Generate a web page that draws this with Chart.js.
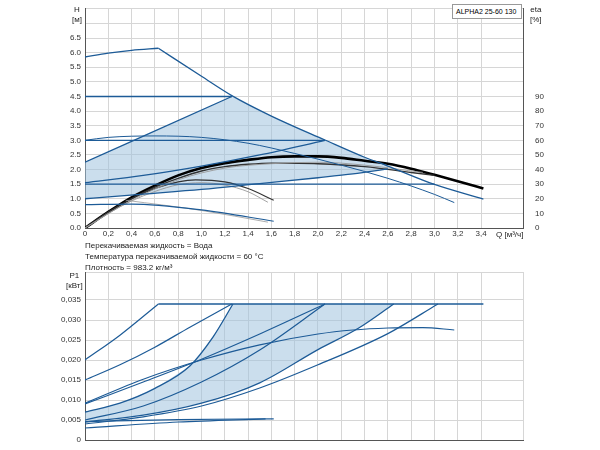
<!DOCTYPE html>
<html>
<head>
<meta charset="utf-8">
<script src="https://cdn.jsdelivr.net/npm/chart.js@4"></script>
<style>
  body { margin: 0; background: #fff; font-family: "Liberation Sans", Arial, sans-serif; }
  #wrap { position: relative; width: 600px; height: 450px; }
  canvas { position: absolute; left: 0; }
  .txt { position: absolute; font-size: 8px; color: #222; white-space: nowrap; line-height: 10px; }
  .box { position: absolute; left: 452px; top: 4px; width: 70px; height: 15px; border: 1px solid #999; font-size: 7px; line-height: 13px; padding-left: 3px; box-sizing: border-box; background: #fff; white-space: nowrap; }
</style>
</head>
<body>
<div id="wrap">
  <canvas id="headChart" style="top:0" width="600" height="240"></canvas>
  <canvas id="powerChart" style="top:250px" width="600" height="200"></canvas>
  <div class="box">ALPHA2 25-60 130</div>
  <div class="txt" style="left:72px;top:5px;text-align:center">H<br>[м]</div>
  <div class="txt" style="left:530px;top:5px;text-align:center">eta<br>[%]</div>
  <div class="txt" style="left:496px;top:230px">Q [м³/ч]</div>
  <div class="txt" style="left:85px;top:241px">Перекачиваемая жидкость = Вода</div>
  <div class="txt" style="left:85px;top:252px">Температура перекачиваемой жидкости = 60 °C</div>
  <div class="txt" style="left:85px;top:263px">Плотность = 983.2 кг/м³</div>
  <div class="txt" style="left:66px;top:271px;text-align:center">P1<br>[кВт]</div>
</div>
<script>
// head curves, Q [m3/h] / H [m]
const maxCurveQ = [0, 0.2, 0.4, 0.63, 1.0, 1.26, 1.6, 2.06, 2.4, 2.6, 3.0, 3.42];
const maxCurveH = [5.85, 5.98, 6.08, 6.15, 5.19, 4.53, 3.83, 3.01, 2.42, 2.12, 1.49, 0.99];
const cpHighQ = [0, 1.26];  const cpHighH = [4.5, 4.5];
const cpMidQ = [0, 2.06];   const cpMidH = [3.0, 3.0];
const cpLowQ = [0, 3.0];    const cpLowH = [1.5, 1.5];
const ppHighQ = [0, 1.26];  const ppHighH = [2.25, 4.5];
const ppMidQ = [0, 0.5, 1.0, 1.5, 2.06];
const ppMidH = [1.55, 1.8, 2.12, 2.5, 3.0];
const ppLowQ = [0, 0.5, 1.0, 1.5, 2.0, 2.3, 2.6];
const ppLowH = [1.0, 1.16, 1.32, 1.52, 1.72, 1.85, 2.02];
const autoQ = [0, 0.2, 0.6, 1.0, 1.4, 1.8, 2.2, 2.6, 3.0, 3.17];
const autoH = [3.0, 3.1, 3.15, 3.1, 2.9, 2.55, 2.15, 1.7, 1.15, 0.87];
const minQ = [0, 0.4, 1.0, 1.62];
const minH = [0.8, 0.82, 0.62, 0.23];
const minGrayQ = [0.35, 1.0, 1.57];
const minGrayH = [0.95, 0.6, 0.2];

// efficiency curves, eta [%]
const etaMaxQ = [0, 0.2, 0.4, 0.6, 0.8, 1.0, 1.2, 1.4, 1.6, 1.8, 2.0, 2.2, 2.4, 2.6, 2.8, 3.0, 3.2, 3.42];
const etaMax = [0, 11, 21, 29, 36, 41, 44.4, 46.6, 48.4, 49, 49, 48, 46, 44, 40.6, 36.4, 32, 27];
const etaAutoQ = [0, 0.2, 0.4, 0.6, 0.8, 1.0, 1.2, 1.4, 1.6, 2.0, 2.4, 2.8, 3.0];
const etaAuto = [0, 10.5, 20, 28, 34, 39, 42, 43.6, 44.4, 44, 42, 38, 36];
const etaAutoGrayQ = [0, 0.4, 0.8, 1.2, 1.6, 2.0, 2.4, 2.9];
const etaAutoGray = [0, 19, 33, 41, 44, 45, 43, 38];
const etaMinQ = [0, 0.2, 0.4, 0.6, 0.8, 0.95, 1.2, 1.4, 1.62];
const etaMin = [0, 11, 20, 27, 31.6, 33, 31.6, 27, 19];
const etaMinGrayQ = [0, 0.2, 0.4, 0.6, 0.8, 1.0, 1.2, 1.4, 1.57];
const etaMinGray = [0, 10, 18.5, 25, 29.6, 31, 29.4, 24.8, 17.6];

// power curves, P1 [kW]
const pCapQ = [0.63, 3.42];             const pCap = [0.034, 0.034];
const pAQ = [0, 0.3, 0.63];             const pA = [0.020, 0.0262, 0.034];
const pBQ = [0, 0.3, 0.6, 0.9, 1.26];   const pB = [0.015, 0.0188, 0.0232, 0.0282, 0.034];
const pCQ = [0, 0.3, 0.6, 0.9, 1.1, 1.27]; const pC = [0.007, 0.0092, 0.0129, 0.0185, 0.0258, 0.034];
const pDQ = [0, 0.5, 1.0, 1.5, 2.06];   const pD = [0.009, 0.0145, 0.0202, 0.0265, 0.034];
const pEQ = [0, 0.5, 1.0, 1.5, 2.0, 2.3, 2.6, 2.9, 3.17];
const pE = [0.0092, 0.0152, 0.020, 0.0238, 0.0265, 0.0275, 0.028, 0.0281, 0.0275];
const pFQ = [0, 0.5, 1.0, 1.5, 2.06];   const pF = [0.005, 0.0085, 0.0145, 0.0225, 0.034];
const pGQ = [0, 0.5, 1.0, 1.5, 2.0, 2.35, 2.65]; const pG = [0.0045, 0.0062, 0.0092, 0.0143, 0.0226, 0.028, 0.034];
const pHQ = [0, 0.5, 1.0, 1.5, 2.0, 2.6, 3.03]; const pH = [0.004, 0.0058, 0.0085, 0.013, 0.0188, 0.0266, 0.034];
const pMinQ = [0, 0.8, 1.62];           const pMin = [0.0046, 0.0051, 0.0053];
const pMin2Q = [0, 0.8, 1.55];          const pMin2 = [0.003, 0.0045, 0.0053];

const BLUE = "#1d5b97";
const FILL = "rgba(160,195,222,0.55)";
const GRID = "#d6d6d6";

const pts = (xs, ys) => xs.map((x, i) => ({ x: x, y: ys[i] }));
const line = (xs, ys, color, width, axis) => ({
  data: pts(xs, ys), borderColor: color, borderWidth: width || 1.2,
  pointRadius: 0, showLine: true, fill: false, cubicInterpolationMode: "monotone",
  yAxisID: axis || "y",
});
const area = (xs, ys) => ({
  data: pts(xs, ys), borderWidth: 0, pointRadius: 0, showLine: true,
  fill: "shape", backgroundColor: FILL, tension: 0, order: 10,
});
const fixW = (w) => (s) => { s.width = w; };
const fixH = (h) => (s) => { s.height = h; };

// the max curve has a kink at its top point (index 3), draw it as two pieces
const KINK = 3;

// shaded operating area, built from the curves above
const headAreaQ = [0, 0].concat(ppHighQ.slice(1), maxCurveQ.slice(6, 10), ppLowQ.slice().reverse());
const headAreaH = [1.0, 2.25].concat(ppHighH.slice(1), maxCurveH.slice(6, 10), ppLowH.slice().reverse());
const powerAreaQ = pCQ.concat(pGQ.slice().reverse());
const powerArea = pC.concat(pG.slice().reverse());

const qAxis = (showLabels, h) => ({
  type: "linear", min: 0, max: 3.76,
  ticks: {
    stepSize: 0.2, display: showLabels, autoSkip: false, maxRotation: 0, padding: 1,
    font: { size: 8 }, color: "#333",
    callback: (v) => v === 0 ? "0" : (v <= 3.41 ? v.toFixed(1).replace(".", ",") : ""),
  },
  grid: { color: GRID, drawTicks: false }, border: { color: "#555" },
  afterFit: fixH(h),
});

new Chart(document.getElementById("headChart"), {
  type: "scatter",
  data: {
    datasets: [
      area(headAreaQ, headAreaH),
      line(maxCurveQ.slice(0, KINK + 1), maxCurveH.slice(0, KINK + 1), BLUE, 1.3),
      line(maxCurveQ.slice(KINK), maxCurveH.slice(KINK), BLUE, 1.3),
      line(cpHighQ, cpHighH, BLUE, 1.3),
      line(cpMidQ, cpMidH, BLUE, 1.3),
      line(cpLowQ, cpLowH, BLUE, 1.3),
      line(ppHighQ, ppHighH, BLUE, 1.3),
      line(ppMidQ, ppMidH, BLUE, 1.3),
      line(ppLowQ, ppLowH, BLUE, 1.3),
      line(autoQ, autoH, BLUE, 1),
      line(minQ, minH, BLUE, 1.2),
      line(minGrayQ, minGrayH, "#999", 0.8),
      line(etaAutoGrayQ, etaAutoGray, "#999", 0.9, "y2"),
      line(etaMinGrayQ, etaMinGray, "#999", 0.9, "y2"),
      line(etaAutoQ, etaAuto, "#333", 1.4, "y2"),
      line(etaMinQ, etaMin, "#333", 1.2, "y2"),
      line(etaMaxQ, etaMax, "#000", 2.6, "y2"),
    ],
  },
  options: {
    responsive: false, animation: false,
    layout: { padding: { top: 5, left: 0, right: 0, bottom: 0 } },
    plugins: { legend: { display: false }, tooltip: { enabled: false } },
    scales: {
      x: qAxis(true, 12),
      y: {
        min: 0, max: 7.5,
        ticks: {
          stepSize: 0.5, font: { size: 8 }, color: "#333", padding: 4,
          callback: (v) => v <= 6.5 ? v.toFixed(1) : "",
        },
        grid: { color: GRID, drawTicks: false }, border: { color: "#555" },
        afterFit: fixW(85),
      },
      y2: {
        position: "right", min: 0, max: 150,
        ticks: {
          stepSize: 10, font: { size: 8 }, color: "#333", padding: 4,
          callback: (v) => v <= 90 ? String(v) : "",
        },
        grid: { display: false }, border: { color: "#555" },
        afterFit: fixW(77),
      },
    },
  },
});

new Chart(document.getElementById("powerChart"), {
  type: "scatter",
  data: {
    datasets: [
      area(powerAreaQ, powerArea),
      line(pCapQ, pCap, BLUE, 1.4),
      line(pAQ, pA, BLUE),
      line(pBQ, pB, BLUE),
      line(pCQ, pC, BLUE, 1.3),
      line(pDQ, pD, BLUE),
      line(pEQ, pE, BLUE),
      line(pFQ, pF, BLUE),
      line(pGQ, pG, BLUE, 1.3),
      line(pHQ, pH, BLUE),
      line(pMinQ, pMin, BLUE),
      line(pMin2Q, pMin2, BLUE),
    ],
  },
  options: {
    responsive: false, animation: false,
    layout: { padding: { top: 22, left: 0, right: 77, bottom: 0 } },
    plugins: { legend: { display: false }, tooltip: { enabled: false } },
    scales: {
      x: qAxis(false, 10),
      y: {
        min: 0, max: 0.042,
        ticks: {
          stepSize: 0.005, font: { size: 8 }, color: "#333", padding: 4,
          callback: (v) => v > 0.0351 ? "" : (v === 0 ? "0" : v.toFixed(3).replace(".", ",")),
        },
        grid: { color: GRID, drawTicks: false }, border: { color: "#555" },
        afterFit: fixW(85),
      },
    },
  },
});
</script>
</body>
</html>
